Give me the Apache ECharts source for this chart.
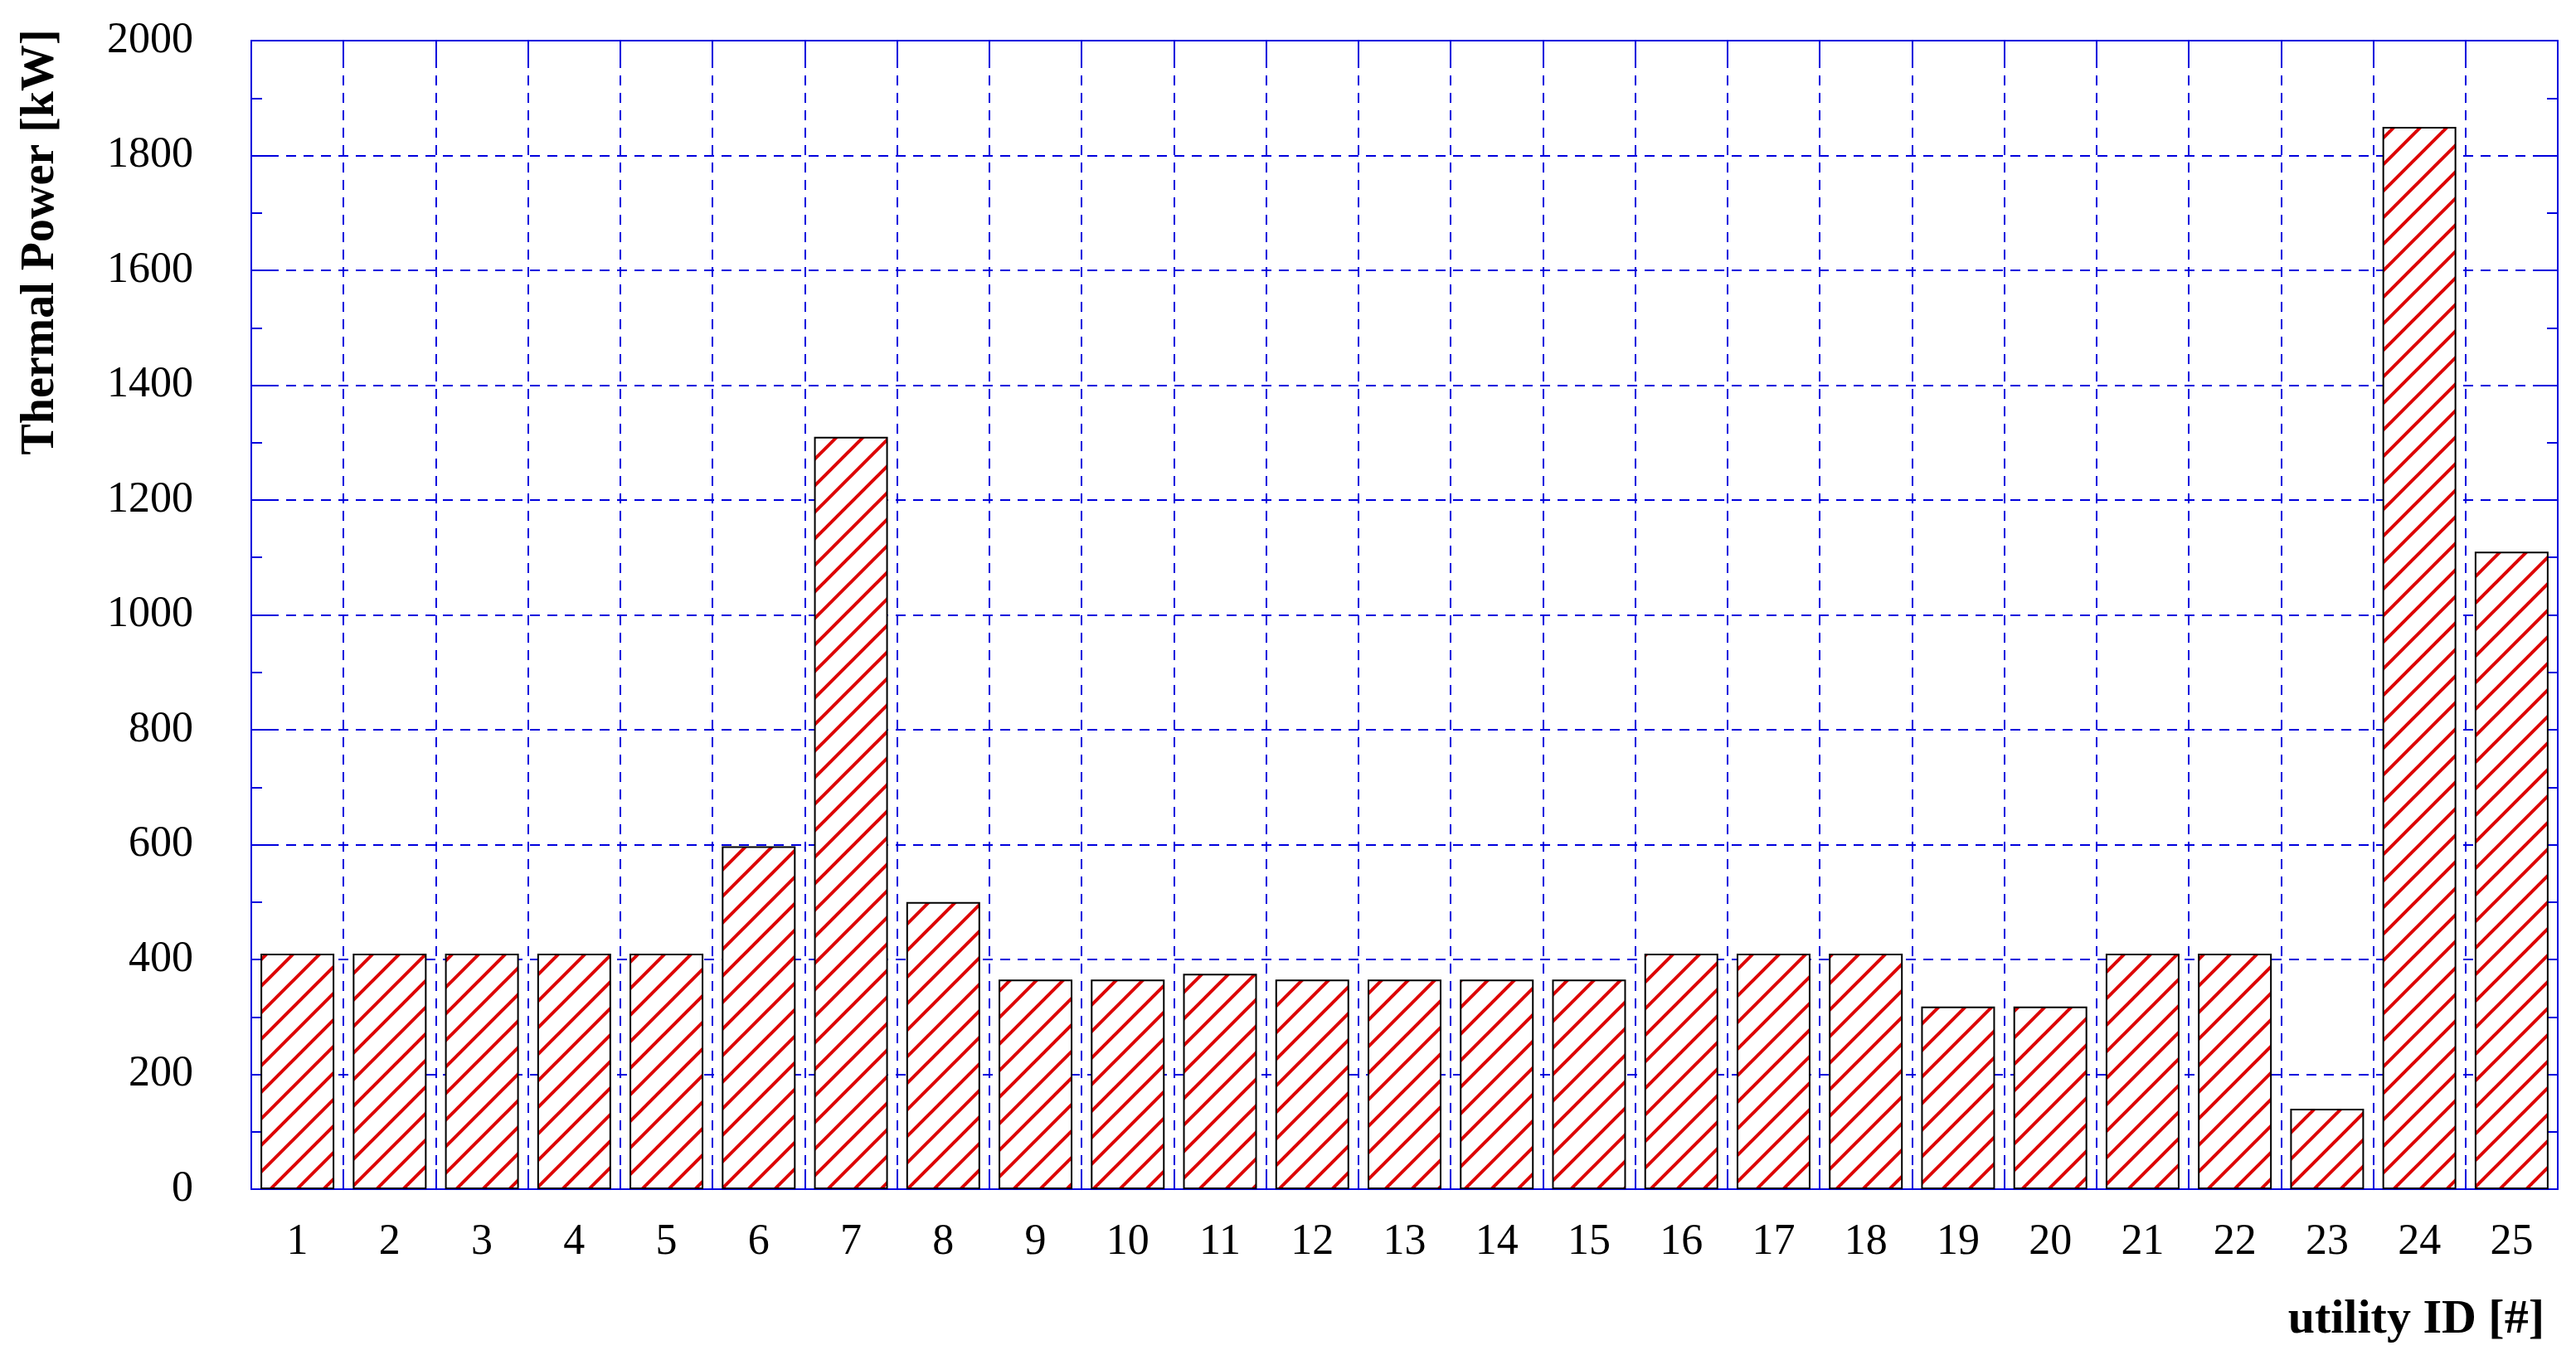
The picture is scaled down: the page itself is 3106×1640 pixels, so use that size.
<!DOCTYPE html>
<html>
<head>
<meta charset="utf-8">
<title>Thermal power per utility</title>
<script src="https://cdn.jsdelivr.net/npm/echarts@6/dist/echarts.min.js"></script>
<style>
  html, body { margin: 0; padding: 0; background: #fff; }
  #chart { width: 3106px; height: 1640px; }
</style>
</head>
<body>
<div id="chart"></div>
<script>
  // categories: utility IDs
  var utilityIds = ['1', '2', '3', '4', '5', '6', '7', '8', '9', '10', '11', '12', '13',
    '14', '15', '16', '17', '18', '19', '20', '21', '22', '23', '24', '25']
  // thermal power per utility [kW]
  var thermalPower = [410, 410, 410, 410, 410, 597, 1310, 500, 365, 365, 375, 365, 365,
    365, 365, 410, 410, 410, 318, 318, 410, 410, 140, 1850, 1110]
  // y axis ticks
  var powerMin = 0
  var powerMax = 2000
  var powerStep = 200

  var blue = '#0000dd'
  var font = '"Liberation Serif", "Times New Roman", serif'

  // white tile with a red "/" hatch line, used as the bar fill
  function hatchTile() {
    var c = document.createElement('canvas')
    c.width = 32
    c.height = 32
    var ctx = c.getContext('2d')
    ctx.fillStyle = '#ffffff'
    ctx.fillRect(0, 0, 32, 32)
    ctx.strokeStyle = '#dd0000'
    ctx.lineWidth = 4
    ctx.beginPath()
    ctx.moveTo(-8, 40); ctx.lineTo(40, -8)
    ctx.moveTo(-8, 8); ctx.lineTo(8, -8)
    ctx.moveTo(24, 40); ctx.lineTo(40, 24)
    ctx.stroke()
    return c
  }

  var chart = echarts.init(document.getElementById('chart'), null, {renderer: 'canvas'})

  // onZero off, otherwise the top x axis gets pulled down to y = 0
  var frameLine = {show: true, onZero: false, lineStyle: {color: blue, width: 2}}
  var gridLine = {show: true, interval: 0, lineStyle: {color: blue, width: 2, type: [12, 9]}}
  var xTick = {show: true, inside: true, length: 24, interval: 0, lineStyle: {color: blue, width: 2}}

  chart.setOption({
    animation: false,
    backgroundColor: '#ffffff',
    grid: {left: 303, right: 22, top: 49, bottom: 206, containLabel: false},
    xAxis: [{
      type: 'category',
      data: utilityIds,
      position: 'bottom',
      boundaryGap: true,
      axisLine: frameLine,
      axisTick: xTick,
      axisLabel: {interval: 0, color: '#000', fontFamily: font, fontSize: 52, margin: 38},
      splitLine: gridLine
    }, {
      type: 'category',
      data: utilityIds,
      position: 'top',
      boundaryGap: true,
      axisLine: frameLine,
      axisTick: xTick,
      axisLabel: {show: false},
      splitLine: {show: false}
    }],
    yAxis: [{
      type: 'value',
      position: 'left',
      min: powerMin,
      max: powerMax,
      interval: powerStep,
      axisLine: frameLine,
      axisTick: {show: true, inside: true, length: 25, lineStyle: {color: blue, width: 2}},
      minorTick: {show: true, splitNumber: 2, length: 13, lineStyle: {color: blue, width: 2}},
      axisLabel: {
        color: '#000', fontFamily: font, fontSize: 52, margin: 70,
        formatter: function (v) { return String(v) }
      },
      splitLine: gridLine
    }, {
      type: 'value',
      position: 'right',
      min: powerMin,
      max: powerMax,
      interval: powerStep,
      axisLine: frameLine,
      axisTick: {show: true, inside: true, length: 25, lineStyle: {color: blue, width: 2}},
      minorTick: {show: true, splitNumber: 2, length: 13, lineStyle: {color: blue, width: 2}},
      axisLabel: {show: false},
      splitLine: {show: false}
    }],
    series: [{
      type: 'bar',
      xAxisIndex: 0,
      yAxisIndex: 0,
      barWidth: '80%',
      data: thermalPower,
      itemStyle: {
        color: {image: hatchTile(), repeat: 'repeat'},
        borderColor: '#000',
        borderWidth: 2
      }
    }],
    graphic: [{
      type: 'text',
      x: 50,
      y: 292,
      rotation: Math.PI / 2,
      style: {
        text: 'Thermal Power [kW]',
        font: 'bold 56px ' + font,
        fill: '#000',
        align: 'center',
        verticalAlign: 'middle'
      }
    }, {
      type: 'text',
      x: 3068,
      y: 1592,
      style: {
        text: 'utility ID [#]',
        font: 'bold 58px ' + font,
        fill: '#000',
        align: 'right',
        verticalAlign: 'middle'
      }
    }]
  })
</script>
</body>
</html>
